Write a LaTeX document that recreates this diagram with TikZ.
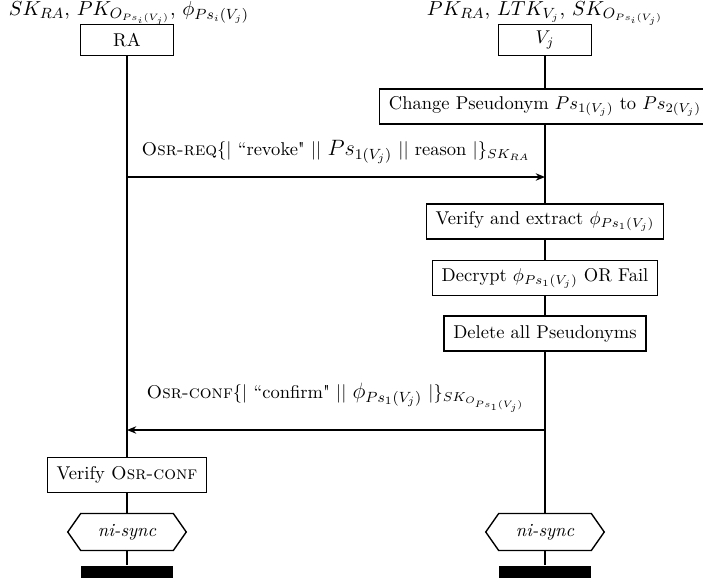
\documentclass[tikz,border=0pt]{standalone}
\usetikzlibrary{arrows.meta,shapes.symbols}
\begin{document}
\begin{tikzpicture}[x=0.54pt,y=-0.54pt,
  line width=0.75pt,
  actbox/.style={draw,fill=white,inner xsep=5pt,inner ysep=3pt,minimum height=19pt},
  instbox/.style={draw,fill=white,minimum width=50pt,minimum height=17pt,inner sep=2pt},
  synchex/.style={draw,fill=white,signal,signal to=east and west,signal pointer angle=110,minimum width=64pt,minimum height=20pt,inner sep=1pt,font=\itshape},
  endbar/.style={fill=black,minimum width=50pt,minimum height=6.5pt,inner sep=0pt},
  msg/.style={-{Stealth[length=5pt,width=4pt]}},
  hdr/.style={inner sep=0pt,font=\fontsize{10.9}{13}\selectfont},
  lbl/.style={inner sep=0pt}]
\useasboundingbox (0,0) rectangle (703,584);
% instance headers
\node[hdr] (hL) at (129,13) {$SK_{RA}$, $PK_{O_{Ps_i(V_j)}}$, $\phi_{Ps_i(V_j)}$};
\node[hdr] (hR) at (545,13) {$PK_{RA}$, $LTK_{V_j}$, $SK_{O_{Ps_i(V_j)}}$};
\node[instbox] (RA) at (127,40) {RA};
\node[instbox] (Vj) at (545,40) {$V_j$};
% actions on V_j
\node[actbox] (chg) at (545,106.5) {Change Pseudonym $Ps_{1(V_j)}$ to $Ps_{2(V_j)}$};
\node[actbox] (ver) at (545,221.5) {Verify and extract $\phi_{Ps_1(V_j)}$};
\node[actbox] (dec) at (545,278) {Decrypt $\phi_{Ps_1(V_j)}$ OR Fail};
\node[actbox] (del) at (545,333.5) {Delete all Pseudonyms};
% action on RA
\node[actbox] (vconf) at (127,475) {Verify \textsc{Osr-conf}};
% sync
\node[synchex] (sL) at (127,532) {ni-sync};
\node[synchex] (sR) at (545,532) {ni-sync};
\node[endbar] (bL) at (127,572) {};
\node[endbar] (bR) at (545,572) {};
% lifelines
\draw (RA.south) -- (vconf.north);
\draw (vconf.south) -- (sL.north);
\draw (sL.south) -- (bL.north);
\draw (Vj.south) -- (chg.north);
\draw (chg.south) -- (ver.north);
\draw (ver.south) -- (dec.north);
\draw (dec.south) -- (del.north);
\draw (del.south) -- (sR.north);
\draw (sR.south) -- (bR.north);
% messages
\coordinate (m1s) at (127,177);
\coordinate (m1e) at (545,177);
\coordinate (m2s) at (545,430);
\coordinate (m2e) at (127,430);
\draw[msg] (m1s) -- node[above=3.5pt] (m1l) {\textsc{Osr-req}$\{|$ ``revoke\textquotedbl{} $||$ {\large$Ps_{1(V_j)}$} $||$ reason $|\}_{SK_{RA}}$} (m1e);
\draw[msg] (m2s) -- node[above=6pt] (m2l) {\textsc{Osr-conf}$\{|$ ``confirm\textquotedbl{} $||$ {\large$\phi_{Ps_1(V_j)}$} $|\}_{SK_{O_{Ps_1(V_j)}}}$} (m2e);
\end{tikzpicture}
\end{document}
